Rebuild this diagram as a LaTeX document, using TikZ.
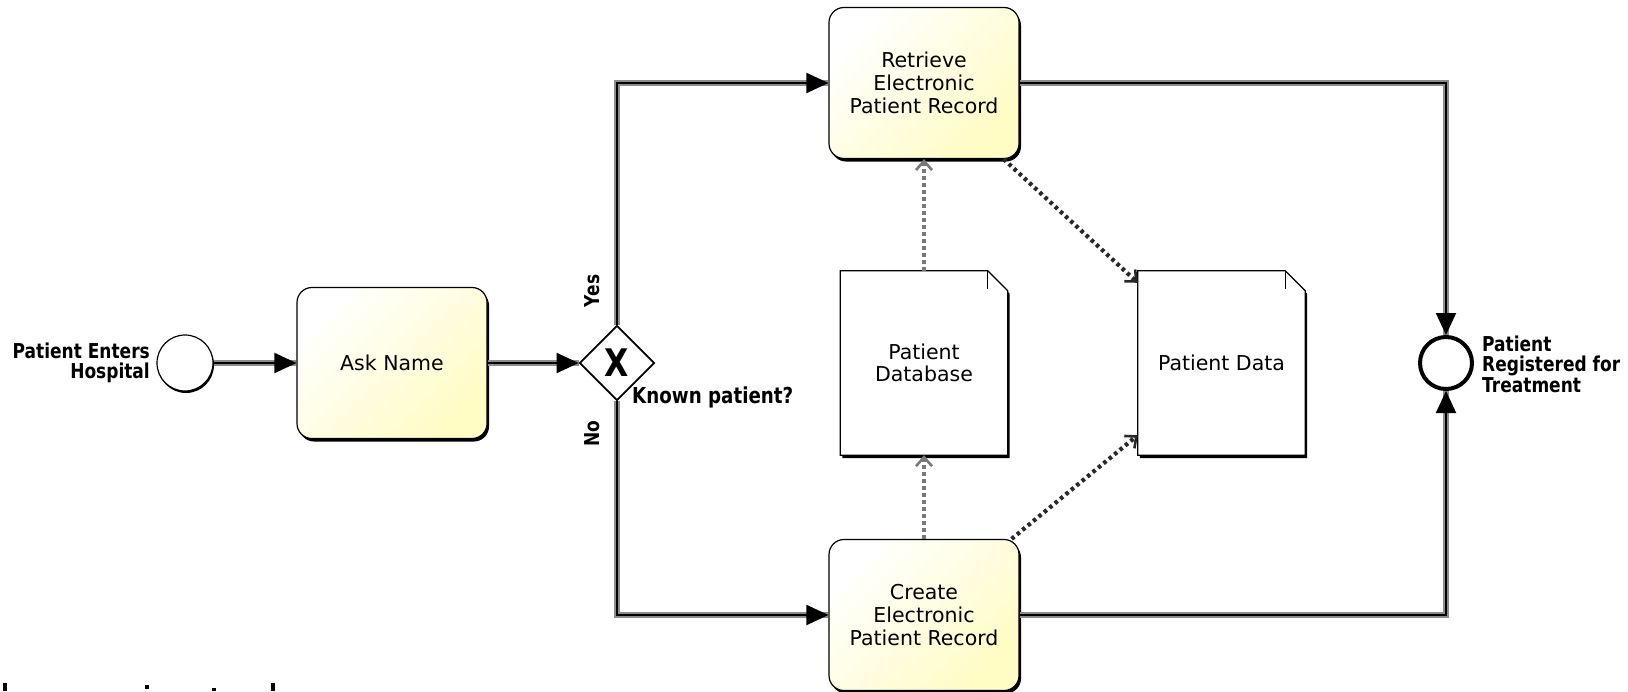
\documentclass[tikz,border=0pt]{standalone}
\usepackage{fontspec}
\setmainfont{DejaVu Sans}
\newfontfamily\lblfont[FakeStretch=0.83]{DejaVu Sans}
\usetikzlibrary{arrows.meta,shapes.geometric,shadows,backgrounds,calc}
\definecolor{taskY}{RGB}{255,252,196}
\definecolor{flowgray}{RGB}{140,140,140}
\definecolor{dotgray}{RGB}{120,120,120}
\definecolor{dotdark}{RGB}{40,40,40}
\tikzset{
  blackshadow/.style={drop shadow={shadow xshift=2pt, shadow yshift=-3pt, opacity=1, fill=black}},
  task/.style={draw=black, line width=1.2pt, rounded corners=15pt, minimum width=190pt, minimum height=151pt,
    inner sep=0pt, align=center, font=\fontsize{20.5}{23}\selectfont,
    top color=white, bottom color=taskY, shading angle=45, blackshadow},
  startev/.style={circle, draw=black, line width=1.2pt, fill=white, minimum size=56pt, inner sep=0pt,
    drop shadow={shadow xshift=1pt, shadow yshift=-2pt, opacity=1, fill=black}},
  endev/.style={circle, draw=black, line width=4pt, fill=white, minimum size=52pt, inner sep=0pt},
  gateway/.style={diamond, aspect=1, draw=black, line width=1.8pt, fill=white, minimum width=75pt, minimum height=75pt,
    inner sep=0pt, font=\lblfont\bfseries\fontsize{38}{38}\selectfont},
  evlabel/.style={inner sep=0pt, font=\lblfont\bfseries\fontsize{20.5}{20.5}\selectfont},
  doc/.style={minimum width=167pt, minimum height=184pt, inner sep=0pt, align=center, font=\fontsize{20.5}{22}\selectfont},
  docshape/.style={fill=white, draw=black, line width=1.2pt, blackshadow},
  flow/.style={draw=black, line width=2pt, -{Triangle[length=22pt,width=20pt]},
    preaction={draw=flowgray, line width=6pt, -}},
  assoc/.style={line width=4.2pt, dash pattern=on 3.5pt off 3.5pt, -{Straight Barb[length=9pt,width=16pt,line width=2.6pt]}}
}
\begin{document}
\begin{tikzpicture}[x=1pt,y=-1pt]
\useasboundingbox (0,0) rectangle (1628,691);
% events and gateway
\node[startev] (start) at (185,363) {};
\node[evlabel, anchor=east, align=right] (startlbl) at (150,363) {Patient Enters\\Hospital};
\node[task] (ask) at (392,363) {Ask Name};
\node[gateway] (gw) at (617,363) {X};
\node[evlabel, anchor=west, font=\lblfont\bfseries\fontsize{22}{22}\selectfont] (gwlbl) at (632,397) {Known patient?};
\node[evlabel, rotate=90] (yes) at (592,291) {Yes};
\node[evlabel, rotate=90] (no) at (592,434) {No};
\node[task] (ret) at (924,83) {Retrieve\\Electronic\\Patient Record};
\node[task] (cre) at (924,615) {Create\\Electronic\\Patient Record};
\node[doc] (db) at (924,363) {Patient\\Database};
\node[doc] (pd) at (1221.5,363) {Patient Data};
\node[endev] (end) at (1446,363) {};
\node[evlabel, anchor=west, align=left] (endlbl) at (1482,364) {Patient\\Registered for\\Treatment};
% data object outlines
\begin{scope}[on background layer]
\foreach \n in {db,pd} {
  \draw[docshape] (\n.north west) -- ([xshift=-20pt]\n.north east) -- ([yshift=-20pt]\n.north east)
     -- (\n.south east) -- (\n.south west) -- cycle;
  \draw[line width=1.2pt] ([xshift=-20pt]\n.north east) -- ([xshift=-20pt,yshift=-18pt]\n.north east);
}
\end{scope}
% sequence flows
\draw[flow] (start) -- (ask);
\draw[flow] (ask) -- (gw);
\draw[flow] (gw.north) |- (ret.west);
\draw[flow] (gw.south) |- (cre.west);
\draw[flow] (ret.east) -| (end.north);
\draw[flow] (cre.east) -| (end.south);
% associations
\draw[assoc, dotgray] (db.north) -- (ret.south);
\draw[assoc, dotgray] (cre.north) -- (db.south);
\draw[assoc, dotdark] ([xshift=-16pt]ret.south east) -- ([yshift=-12pt]pd.north west);
\draw[assoc, dotdark] ([xshift=-8pt]cre.north east) -- ([yshift=20pt]pd.south west);
% clipped text remnants at the bottom edge
\fill (3,683) rectangle (7,691);
\fill (145,685) rectangle (149,689);
\fill (212,688) rectangle (216,691);
\fill (271,683) rectangle (275,691);
\end{tikzpicture}
\end{document}
